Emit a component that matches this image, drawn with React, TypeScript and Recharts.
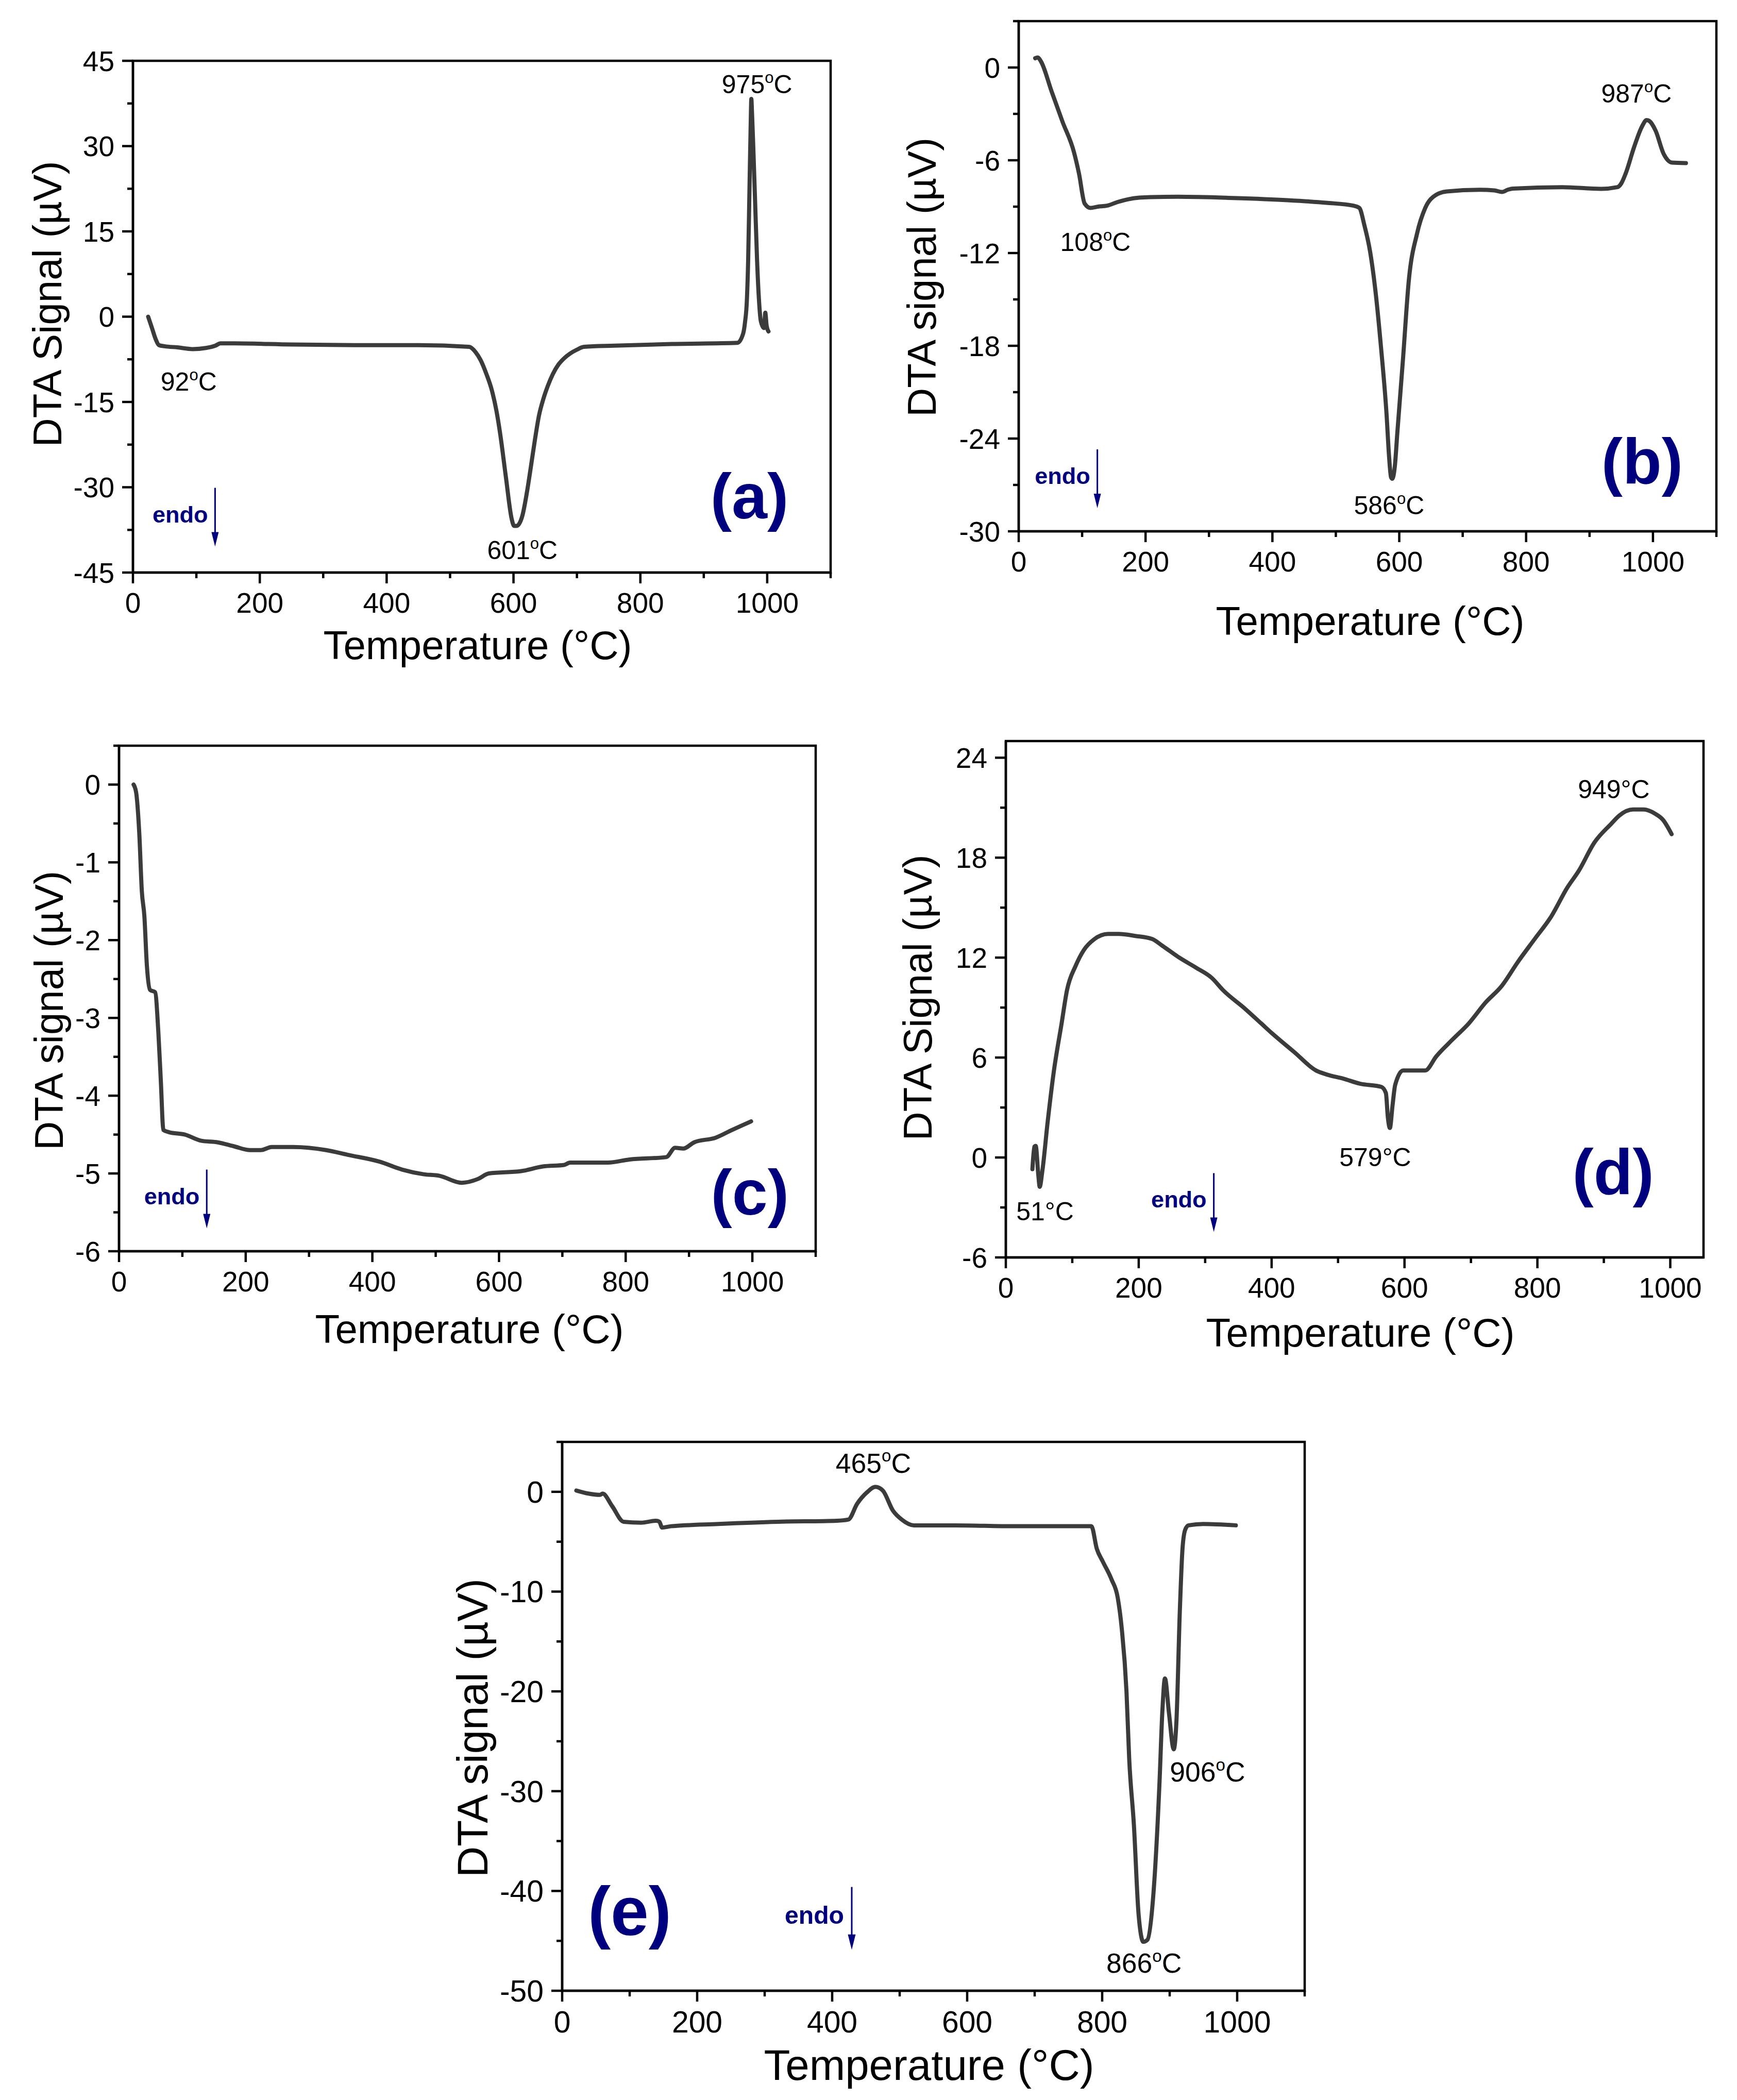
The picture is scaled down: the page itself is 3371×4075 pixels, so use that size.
import React from 'react';
import { LineChart, Line, XAxis, YAxis, ReferenceArea, ReferenceDot } from 'recharts';

const FONT = '"Liberation Sans", Arial, Helvetica, sans-serif';
const NAVY = '#00007f';
const INK = '#000000';
const CURVE = '#3b3b3b';

// ---------- data (temperature °C, DTA signal µV) ----------
const tempA = [24, 30, 36, 41, 50, 70, 94, 115, 130, 138, 160, 250, 350, 450, 530, 540, 548, 557, 566, 573, 579, 588, 597, 601, 605, 614, 621, 627, 634, 640, 647, 654, 662, 671, 680, 689, 700, 711, 759, 850, 953, 962, 965, 968, 970, 972, 974, 975, 976, 978, 981, 984, 987, 990, 995, 997, 999, 1002];
const sigA = [0, -2, -4, -5, -5.2, -5.4, -5.7, -5.5, -5.1, -4.7, -4.7, -4.9, -5.0, -5.0, -5.3, -6.2, -7.6, -10, -13, -16.5, -20.6, -28.2, -35.5, -36.8, -36.8, -35, -31, -26.7, -21.5, -17.5, -14.5, -12.2, -10.1, -8.4, -7.3, -6.5, -5.8, -5.3, -5.1, -4.8, -4.6, -3, -1, 3, 10, 22, 34, 38.3, 36, 30, 20, 10, 3, -0.8, -2.0, 0.7, -1.5, -2.6];

const tempB = [26, 30, 35, 52, 69, 87, 95, 104, 113, 125, 139, 156, 173, 190, 208, 251, 338, 424, 485, 528, 537, 545, 554, 563, 571, 580, 584, 587, 589, 593, 597, 606, 615, 628, 641, 658, 675, 727, 750, 762, 771, 779, 857, 918, 944, 950, 957, 970, 983, 990, 994, 1004, 1017, 1030, 1052];
const sigB = [0.6, 0.65, 0.4, -1.56, -3.5, -5.46, -6.85, -8.8, -9.08, -9.0, -8.94, -8.7, -8.52, -8.42, -8.38, -8.36, -8.44, -8.58, -8.75, -8.94, -9.08, -10.2, -11.9, -14.65, -18, -22.45, -25.2, -26.5, -26.6, -25.8, -23.6, -18.8, -13.8, -10.75, -9.08, -8.24, -8.02, -7.91, -7.95, -8.05, -7.91, -7.83, -7.74, -7.85, -7.74, -7.5, -6.85, -5.18, -3.79, -3.4, -3.45, -4.07, -5.6, -6.15, -6.18];

const tempC = [23, 27, 32, 36, 40, 44, 49, 57, 62, 66, 70, 79, 104, 130, 156, 181, 207, 224, 241, 275, 327, 361, 412, 447, 481, 506, 541, 567, 584, 635, 669, 703, 712, 772, 806, 864, 878, 891, 908, 942, 968, 998];
const sigC = [0, -0.1, -0.63, -1.37, -1.69, -2.33, -2.64, -2.67, -3.17, -3.81, -4.44, -4.47, -4.5, -4.58, -4.6, -4.65, -4.7, -4.7, -4.66, -4.66, -4.7, -4.76, -4.85, -4.95, -5.01, -5.03, -5.12, -5.07, -5.0, -4.97, -4.91, -4.89, -4.86, -4.86, -4.82, -4.79, -4.67, -4.68, -4.6, -4.54, -4.44, -4.33];

const tempD = [40, 43, 45, 49, 51, 55, 63, 72, 84, 92, 105, 117, 133, 154, 170, 195, 220, 236, 261, 286, 310, 327, 360, 384, 401, 434, 467, 483, 508, 533, 565, 572, 575, 578, 582, 586, 598, 631, 648, 672, 697, 722, 746, 771, 796, 821, 845, 862, 886, 911, 923, 944, 960, 977, 989, 1002];
const sigD = [-0.7, 0.65, 0.7, -1.1, -1.76, -0.8, 2.15, 5.1, 8.06, 10.03, 11.5, 12.43, 13.1, 13.42, 13.42, 13.3, 13.12, 12.7, 12.0, 11.4, 10.78, 10.04, 8.93, 8.06, 7.44, 6.33, 5.22, 4.98, 4.73, 4.43, 4.24, 3.87, 2.39, 1.77, 3.13, 4.36, 5.22, 5.22, 6.08, 7.07, 8.06, 9.3, 10.28, 11.76, 13.12, 14.48, 16.2, 17.19, 18.92, 20.03, 20.52, 20.89, 20.89, 20.64, 20.27, 19.41];

const tempE = [21, 39, 56, 60, 74, 91, 117, 139, 144, 148, 161, 231, 319, 407, 424, 437, 451, 464, 475, 490, 503, 521, 582, 670, 784, 792, 801, 814, 823, 829, 836, 840, 847, 854, 861, 867, 876, 885, 889, 893, 899, 906, 910, 915, 919, 923, 928, 950, 998];
const sigE = [0.13, -0.18, -0.31, -0.18, -1.43, -3.0, -3.09, -2.9, -3.0, -3.58, -3.45, -3.22, -3.0, -2.9, -2.78, -1.2, -0.09, 0.49, 0.13, -1.88, -2.78, -3.36, -3.36, -3.45, -3.45, -5.7, -7.0, -8.8, -10.6, -13.7, -20, -26.7, -33.4, -42.4, -45.1, -44.9, -40.2, -29, -22.2, -18.7, -22.2, -25.8, -23, -12, -5.7, -3.8, -3.36, -3.22, -3.36];

// ---------- ticks ----------
const xTicks1100 = [0, 100, 200, 300, 400, 500, 600, 700, 800, 900, 1000, 1100];
const xTicks1000 = [0, 100, 200, 300, 400, 500, 600, 700, 800, 900, 1000];
const yTicksA = [-45, -37.5, -30, -22.5, -15, -7.5, 0, 7.5, 15, 22.5, 30, 37.5, 45];
const yTicksB = [-30, -27, -24, -21, -18, -15, -12, -9, -6, -3, 0, 3];
const yTicksC = [-6, -5.5, -5, -4.5, -4, -3.5, -3, -2.5, -2, -1.5, -1, -0.5, 0, 0.5];
const yTicksD = [-6, -3, 0, 3, 6, 9, 12, 15, 18, 21, 24];
const yTicksE = [-50, -45, -40, -35, -30, -25, -20, -15, -10, -5, 0, 5];

const zip = (t: number[], v: number[]) => t.map((x, i) => ({ t: x, v: v[i] }));

const MAJOR = 21;
const MINOR = 11;
const XMARGIN = 18;
const YMARGIN = 15;
const AXW = 4.5;

const isMajor = (v: number, step: number) => {
  const r = Math.abs(v / step - Math.round(v / step));
  return r < 1e-6;
};

const makeXTick = (step: number, fs: number) => (p: any) => {
  const { x, y, payload } = p;
  const v = payload.value;
  const axisY = y - MAJOR - XMARGIN;
  const major = isMajor(v, step);
  return (
    <g>
      <line x1={x} x2={x} y1={axisY} y2={axisY + (major ? MAJOR : MINOR)} stroke={INK} strokeWidth={AXW} />
      {major ? (
        <text x={x} y={y} dy="0.71em" textAnchor="middle" fontSize={fs} fontFamily={FONT} fill={INK}>
          {v}
        </text>
      ) : null}
    </g>
  );
};

const makeYTick = (step: number, fs: number) => (p: any) => {
  const { x, y, payload } = p;
  const v = payload.value;
  const axisX = x + MAJOR + YMARGIN;
  const major = isMajor(v, step);
  return (
    <g>
      <line x1={axisX - (major ? MAJOR : MINOR)} x2={axisX} y1={y} y2={y} stroke={INK} strokeWidth={AXW} />
      {major ? (
        <text x={x} y={y} dy="0.355em" textAnchor="end" fontSize={fs} fontFamily={FONT} fill={INK}>
          {v}
        </text>
      ) : null}
    </g>
  );
};

type Peak = { t: number; v: number; num: string; sup: boolean };

const panels = [
  {
    key: 'a',
    box: [258, 118, 1612, 1111],
    xDomain: [0, 1100], xTicks: xTicks1100, xStep: 200,
    yDomain: [-45, 45], yTicks: yTicksA, yStep: 15,
    data: zip(tempA, sigA),
    yTitle: 'DTA Signal (\u00b5V)', yTitlePos: [119, 590], xTitlePos: [927, 1279],
    s: 1,
    peaks: [
      { t: 984, v: 39.3, num: '975', sup: true },
      { t: 88, v: -13, num: '92', sup: true },
      { t: 614, v: -42.6, num: '601', sup: true },
    ] as Peak[],
    endo: [129.5, -30.1],
    letter: { t: 972, v: -35.5, text: '(a)' },
  },
  {
    key: 'b',
    box: [1977, 41, 3331, 1031],
    xDomain: [0, 1100], xTicks: xTicks1100, xStep: 200,
    yDomain: [-30, 3], yTicks: yTicksB, yStep: 6,
    data: zip(tempB, sigB),
    yTitle: 'DTA signal (\u00b5V)', yTitlePos: [1816, 538], xTitlePos: [2659, 1232],
    s: 1,
    peaks: [
      { t: 974, v: -2.26, num: '987', sup: true },
      { t: 121, v: -11.87, num: '108', sup: true },
      { t: 584, v: -28.9, num: '586', sup: true },
    ] as Peak[],
    endo: [124, -24.7],
    letter: { t: 983, v: -26.9, text: '(b)' },
  },
  {
    key: 'c',
    box: [231, 1447, 1583, 2428],
    xDomain: [0, 1100], xTicks: xTicks1100, xStep: 200,
    yDomain: [-6, 0.5], yTicks: yTicksC, yStep: 1,
    data: zip(tempC, sigC),
    yTitle: 'DTA signal (\u00b5V)', yTitlePos: [122, 1961], xTitlePos: [911, 2606],
    s: 1,
    peaks: [] as Peak[],
    endo: [138.5, -4.95],
    letter: { t: 996, v: -5.53, text: '(c)' },
  },
  {
    key: 'd',
    box: [1952, 1438, 3306, 2440],
    xDomain: [0, 1050], xTicks: xTicks1000, xStep: 200,
    yDomain: [-6, 25], yTicks: yTicksD, yStep: 6,
    data: zip(tempD, sigD),
    yTitle: 'DTA Signal (\u00b5V)', yTitlePos: [1808, 1936], xTitlePos: [2640, 2613],
    s: 1,
    peaks: [
      { t: 915, v: 21.58, num: '949', sup: false },
      { t: 556, v: -0.53, num: '579', sup: false },
      { t: 59, v: -3.78, num: '51', sup: false },
    ] as Peak[],
    endo: [313, -0.94],
    letter: { t: 914, v: -2.18, text: '(d)' },
  },
  {
    key: 'e',
    box: [1091, 2798, 2532, 3863],
    xDomain: [0, 1100], xTicks: xTicks1100, xStep: 200,
    yDomain: [-50, 5], yTicks: yTicksE, yStep: 10,
    data: zip(tempE, sigE),
    yTitle: 'DTA signal (\u00b5V)', yTitlePos: [946, 3353], xTitlePos: [1803, 4036],
    s: 1.07,
    peaks: [
      { t: 461, v: 1.92, num: '465', sup: true },
      { t: 956, v: -29.05, num: '906', sup: true },
      { t: 862, v: -48.2, num: '866', sup: true },
    ] as Peak[],
    endo: [429, -39.6],
    letter: { t: 100, v: -44.4, text: '(e)' },
  },
];

const PADL = 250;
const PADT = 30;
const PADR = 30;
const PADB = 240;

function PeakLabel(props: any) {
  const { cx, cy, num, sup, fs } = props;
  if (sup) {
    return (
      <text x={cx} y={cy} textAnchor="middle" fontSize={fs} fontFamily={FONT} fill={INK}>
        <tspan>{num}</tspan>
        <tspan fontSize={fs * 0.62} dy={-fs * 0.4}>o</tspan>
        <tspan dy={fs * 0.4}>C</tspan>
      </text>
    );
  }
  return (
    <text x={cx} y={cy} textAnchor="middle" fontSize={fs} fontFamily={FONT} fill={INK}>
      {num + '\u00b0C'}
    </text>
  );
}

function EndoMark(props: any) {
  const { cx, cy, s } = props;
  return (
    <g>
      <text x={cx - 14 * s} y={cy + 67 * s} textAnchor="end" fontSize={45 * s} fontWeight="bold" fontFamily={FONT} fill={NAVY}>
        endo
      </text>
      <line x1={cx} x2={cx} y1={cy} y2={cy + 90 * s} stroke={NAVY} strokeWidth={3} />
      <polygon points={`${cx - 7 * s},${cy + 86 * s} ${cx + 7 * s},${cy + 86 * s} ${cx},${cy + 114 * s}`} fill={NAVY} />
    </g>
  );
}

function LetterMark(props: any) {
  const { cx, cy, text, s } = props;
  return (
    <text x={cx} y={cy} textAnchor="middle" fontSize={124 * s} fontWeight="bold" fontFamily={FONT} fill={NAVY}>
      {text}
    </text>
  );
}

function Panel({ cfg }: { cfg: any }) {
  const [L, T, R, B] = cfg.box;
  const left = L - PADL;
  const top = T - PADT;
  const width = R - L + PADL + PADR;
  const height = B - T + PADT + PADB;
  const s = cfg.s;
  const tickFs = 55 * s;
  const titleFs = 78 * s;
  const peakFs = 50 * s;
  const ytx = cfg.yTitlePos[0] - left;
  const yty = cfg.yTitlePos[1] - top;
  const xtx = cfg.xTitlePos[0] - left;
  const xty = cfg.xTitlePos[1] - top;

  return (
    <div style={{ position: 'absolute', left, top, width, height }}>
      <LineChart width={width} height={height} data={cfg.data} margin={{ top: PADT, right: PADR, bottom: 0, left: 0 }}>
        <XAxis
          dataKey="t"
          type="number"
          domain={cfg.xDomain}
          ticks={cfg.xTicks}
          interval={0}
          allowDataOverflow
          height={PADB}
          tickLine={false}
          tickSize={MAJOR}
          tickMargin={XMARGIN}
          tick={makeXTick(cfg.xStep, tickFs)}
          axisLine={{ stroke: INK, strokeWidth: AXW }}
          label={() => (
            <text x={xtx} y={xty} textAnchor="middle" fontSize={titleFs} fontFamily={FONT} fill={INK}>
              Temperature (°C)
            </text>
          )}
        />
        <YAxis
          type="number"
          domain={cfg.yDomain}
          ticks={cfg.yTicks}
          interval={0}
          allowDataOverflow
          width={PADL}
          tickLine={false}
          tickSize={MAJOR}
          tickMargin={YMARGIN}
          tick={makeYTick(cfg.yStep, tickFs)}
          axisLine={{ stroke: INK, strokeWidth: AXW }}
          label={() => (
            <text
              x={ytx}
              y={yty}
              textAnchor="middle"
              transform={`rotate(-90 ${ytx} ${yty})`}
              fontSize={titleFs}
              fontFamily={FONT}
              fill={INK}
            >
              {cfg.yTitle}
            </text>
          )}
        />
        <ReferenceArea
          x1={cfg.xDomain[0]}
          x2={cfg.xDomain[1]}
          y1={cfg.yDomain[0]}
          y2={cfg.yDomain[1]}
          fill="none"
          fillOpacity={0}
          stroke={INK}
          strokeWidth={AXW}
          ifOverflow="visible"
        />
        <Line
          dataKey="v"
          type="monotone"
          stroke={CURVE}
          strokeWidth={8}
          strokeLinejoin="round"
          strokeLinecap="round"
          dot={false}
          activeDot={false}
          isAnimationActive={false}
        />
        {cfg.peaks.map((p: Peak, i: number) => (
          <ReferenceDot
            key={'pk' + i}
            x={p.t}
            y={p.v}
            r={0}
            ifOverflow="visible"
            shape={(dp: any) => <PeakLabel cx={dp.cx} cy={dp.cy} num={p.num} sup={p.sup} fs={peakFs} />}
          />
        ))}
        <ReferenceDot
          x={cfg.endo[0]}
          y={cfg.endo[1]}
          r={0}
          ifOverflow="visible"
          shape={(dp: any) => <EndoMark cx={dp.cx} cy={dp.cy} s={s} />}
        />
        <ReferenceDot
          x={cfg.letter.t}
          y={cfg.letter.v}
          r={0}
          ifOverflow="visible"
          shape={(dp: any) => <LetterMark cx={dp.cx} cy={dp.cy} text={cfg.letter.text} s={s} />}
        />
      </LineChart>
    </div>
  );
}

export default function App() {
  return (
    <div
      style={{
        position: 'absolute',
        left: 0,
        top: 0,
        width: 3371,
        height: 4075,
        overflow: 'hidden',
        background: '#ffffff',
        fontFamily: FONT,
      }}
    >
      {panels.map((p) => (
        <Panel key={p.key} cfg={p} />
      ))}
    </div>
  );
}
